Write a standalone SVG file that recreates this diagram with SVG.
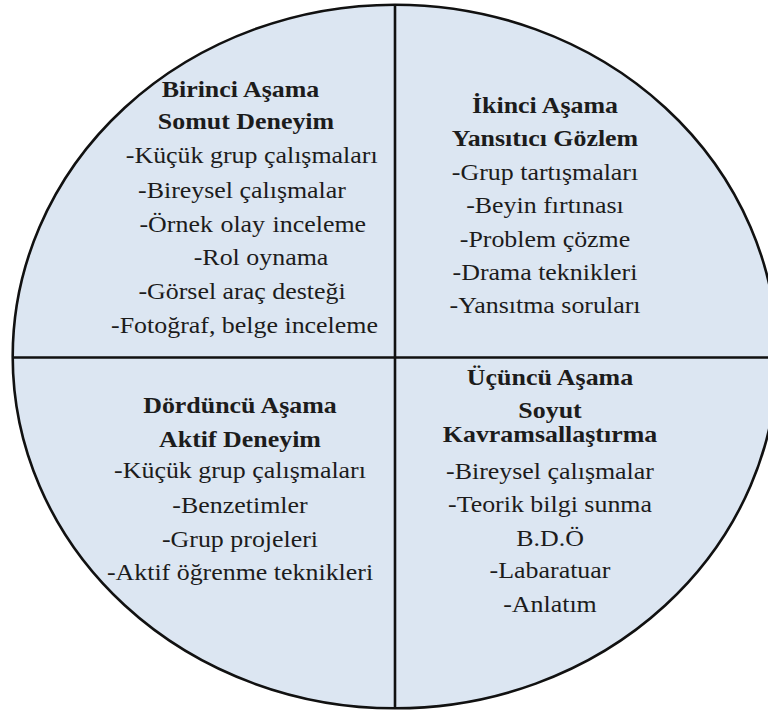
<svg xmlns="http://www.w3.org/2000/svg" width="768" height="711" viewBox="0 0 768 711">
  <style>
    .disc { fill: #dce6f2; stroke: #111; stroke-width: 2.6; }
    .divider { stroke: #111; stroke-width: 2.6; fill: none; }
    .label { font-family: 'Liberation Serif', serif; font-size: 24px; fill: #1c1c1c; text-anchor: middle; }
    .head { font-weight: bold; }
  </style>
  <rect width="768" height="711" fill="#ffffff"/>

  <!-- learning cycle disc -->
  <ellipse class="disc" cx="395" cy="356.5" rx="382.3" ry="351.8"/>

  <!-- quadrant dividers -->
  <g id="dividers">
    <line class="divider" x1="395" y1="4.7" x2="395" y2="708.3"/>
    <line class="divider" x1="12.7" y1="357.5" x2="768" y2="357.5"/>
  </g>

  <!-- stage 1: top left -->
  <g id="stage1" class="label" transform="translate(242 0) scale(1.08 1)">
    <text class="head" x="-1.4" y="97">Birinci Aşama</text>
    <text class="head" x="3.7" y="129">Somut Deneyim</text>
    <text x="9" y="163">-Küçük grup çalışmaları</text>
    <text x="0" y="198">-Bireysel çalışmalar</text>
    <text x="10" y="232" word-spacing="1">-Örnek olay inceleme</text>
    <text x="17.6" y="265">-Rol oynama</text>
    <text x="0" y="299">-Görsel araç desteği</text>
    <text x="2.3" y="333">-Fotoğraf, belge inceleme</text>
  </g>

  <!-- stage 2: top right -->
  <g id="stage2" class="label" transform="translate(545 0) scale(1.08 1)">
    <text class="head" x="0" y="113">İkinci Aşama</text>
    <text class="head" x="0" y="146">Yansıtıcı Gözlem</text>
    <text x="0" y="180">-Grup tartışmaları</text>
    <text x="0" y="213">-Beyin fırtınası</text>
    <text x="0" y="247">-Problem çözme</text>
    <text x="0" y="280">-Drama teknikleri</text>
    <text x="0" y="313">-Yansıtma soruları</text>
  </g>

  <!-- stage 3: bottom right -->
  <g id="stage3" class="label" transform="translate(550 0) scale(1.08 1)">
    <text class="head" x="0" y="385">Üçüncü Aşama</text>
    <text class="head" x="0" y="418">Soyut</text>
    <text class="head" x="0" y="442">Kavramsallaştırma</text>
    <text x="0" y="479">-Bireysel çalışmalar</text>
    <text x="0" y="512">-Teorik bilgi sunma</text>
    <text x="0" y="546">B.D.Ö</text>
    <text x="0" y="578">-Labaratuar</text>
    <text x="0" y="612">-Anlatım</text>
  </g>

  <!-- stage 4: bottom left -->
  <g id="stage4" class="label" transform="translate(240 0) scale(1.08 1)">
    <text class="head" x="0" y="413">Dördüncü Aşama</text>
    <text class="head" x="0" y="447">Aktif Deneyim</text>
    <text x="0" y="478">-Küçük grup çalışmaları</text>
    <text x="0" y="513">-Benzetimler</text>
    <text x="0" y="547">-Grup projeleri</text>
    <text x="0" y="580">-Aktif öğrenme teknikleri</text>
  </g>
</svg>
